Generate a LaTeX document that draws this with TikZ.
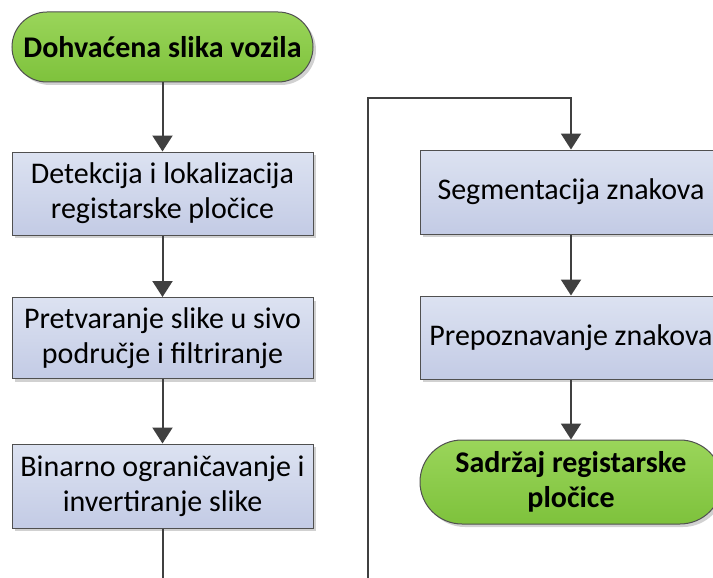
\documentclass[tikz,border=0pt]{standalone}
\usepackage{fontspec}
\setmainfont{Carlito}
\usetikzlibrary{arrows.meta,shadows}
\definecolor{edgegray}{HTML}{505050}
\definecolor{linegray}{HTML}{404040}
\definecolor{bluetop}{HTML}{DCE2F1}
\definecolor{bluebot}{HTML}{C3CBE5}
\definecolor{greentop}{HTML}{9AD55A}
\definecolor{greenbot}{HTML}{7EC23C}
\tikzset{
  base/.style={draw=edgegray, line width=1pt, align=center, inner sep=0pt,
    font=\fontsize{30}{35}\selectfont,
    drop shadow={shadow xshift=3pt, shadow yshift=-3pt, fill=black, opacity=0.18}},
  procbox/.style={base, rectangle, minimum width=301pt, top color=bluetop, bottom color=bluebot},
  terminal/.style={base, rectangle, rounded corners=35pt, minimum width=301pt,
    top color=greentop, bottom color=greenbot, font=\fontsize{30}{35}\selectfont\bfseries},
  flow/.style={draw=linegray, line width=2pt, -{Triangle[width=20pt,length=16pt]}},
  plain/.style={draw=linegray, line width=2pt}
}
\begin{document}
\begin{tikzpicture}[x=1pt,y=-1pt]
\useasboundingbox (0,0) rectangle (713,578);
\clip (0,0) rectangle (713,578);
\fill[white] (0,0) rectangle (713,578);
\node[terminal, minimum height=70pt] (start) at (162.5,47) {Dohvaćena slika vozila};
\node[procbox, minimum height=83pt] (b1) at (162.5,193.5) {Detekcija i lokalizacija\\registarske pločice};
\node[procbox, minimum height=81pt] (b2) at (162.5,338) {Pretvaranje slike u sivo\\područje i filtriranje};
\node[procbox, minimum height=84pt] (b3) at (162.5,486) {Binarno ograničavanje i\\invertiranje slike};
\node[procbox, minimum height=84pt, minimum width=302pt] (b4) at (571,192) {Segmentacija znakova};
\node[procbox, minimum height=83pt, minimum width=302pt] (b5) at (571,337.5) {Prepoznavanje znakova};
\node[terminal, minimum height=84pt, minimum width=302pt, rounded corners=42pt] (end) at (571,482) {Sadržaj registarske\\pločice};
\coordinate (leftend) at (162.5,600);
\coordinate (rightstart) at (368,600);
\coordinate (cornerA) at (368,98);
\coordinate (cornerB) at (571,98);
\draw[flow] (start) -- (b1);
\draw[flow] (b1) -- (b2);
\draw[flow] (b2) -- (b3);
\draw[plain] (b3) -- (leftend);
\draw[flow] (rightstart) -- (cornerA) -- (cornerB) -- (b4);
\draw[flow] (b4) -- (b5);
\draw[flow] (b5) -- (end);
\end{tikzpicture}
\end{document}
